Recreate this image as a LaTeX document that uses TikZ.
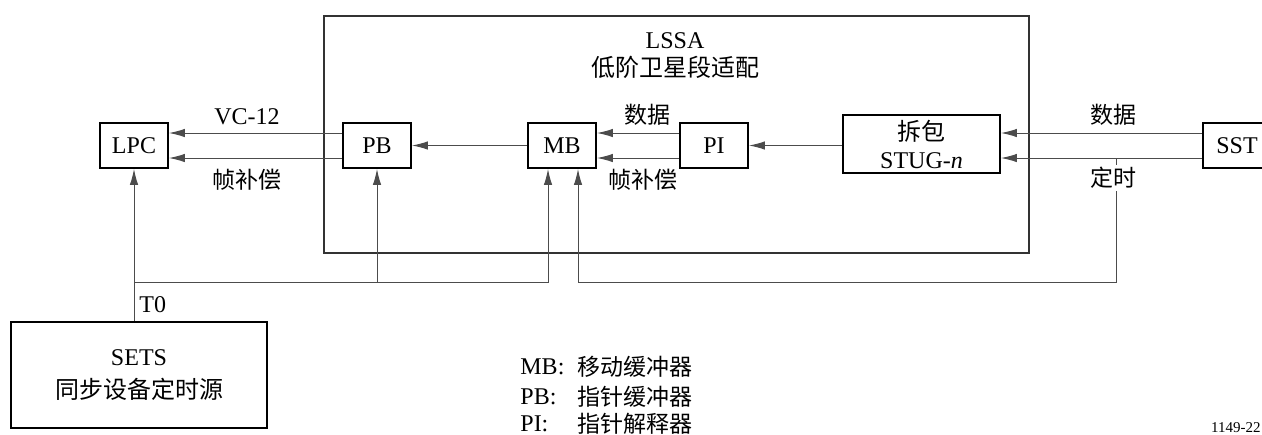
\documentclass[tikz,border=0pt]{standalone}
\usepackage{fontspec}
\setmainfont{Liberation Serif}
\newfontfamily\cjk{Noto Sans CJK SC}
\usetikzlibrary{arrows.meta,calc}
\begin{document}
\begin{tikzpicture}[x=0.5pt,y=-0.5pt,
  every node/.style={font=\fontsize{12}{14}\selectfont, inner sep=0pt},
  blk/.style={draw=black, line width=0.9pt, minimum width=34pt, minimum height=22.5pt, align=center},
  conn/.style={draw=black!70, line width=0.5pt},
  arr/.style={conn, -{Latex[length=8pt,width=4.2pt]}},
  lbl/.style={font=\cjk\fontsize{11.5}{14}\selectfont},
  lblw/.style={lbl, fill=white, inner sep=1pt}]
\useasboundingbox (0,0) rectangle (1262,434);
% big LSSA box
\node[draw=black!80, line width=0.6pt, minimum width=352.5pt, minimum height=118.5pt] (lssa) at (676.5,134.5) {};
\node[align=center, font=\fontsize{12}{14}\selectfont] (lssatxt) at (675,56) {LSSA\\[0pt]{\cjk 低阶卫星段适配}};
% blocks
\node[blk] (LPC) at (134,145.5) {LPC};
\node[blk] (PB) at (377,145.5) {PB};
\node[blk] (MB) at (562,145.5) {MB};
\node[blk] (PI) at (714,145.5) {PI};
\node[blk, minimum width=78.5pt, minimum height=29pt] (unpack) at (921.5,144) {{\cjk 拆包}\\STUG-\textit{n}};
\node[blk] (SST) at (1237,145.5) {SST};
\node[blk, minimum width=128pt, minimum height=53pt, font=\fontsize{12}{16.5}\selectfont] (SETS) at (139,375) {SETS\\{\cjk 同步设备定时源}};
% SST -> unpack
\draw[arr] ([yshift=6.25pt]SST.west) -- ([yshift=6.25pt]SST.west -| unpack.east);
\draw[arr] ([yshift=-6.25pt]SST.west) -- ([yshift=-6.25pt]SST.west -| unpack.east);
% unpack -> PI
\draw[arr] (unpack.west |- PI.east) -- (PI.east);
% PI -> MB
\draw[arr] ([yshift=6.25pt]PI.west) -- ([yshift=6.25pt]MB.east);
\draw[arr] ([yshift=-6.25pt]PI.west) -- ([yshift=-6.25pt]MB.east);
% MB -> PB
\draw[arr] (MB.west) -- (PB.east);
% PB -> LPC
\draw[arr] ([yshift=6.25pt]PB.west) -- ([yshift=6.25pt]LPC.east);
\draw[arr] ([yshift=-6.25pt]PB.west) -- ([yshift=-6.25pt]LPC.east);
% timing from SST
\coordinate (tj) at (1116,158);
\coordinate (tc) at (1116,282);
\draw[arr] (tj) -- (tc) -| ([xshift=8pt]MB.south);
% T0 network
\coordinate (t0) at (134,282);
\draw[arr] (SETS.north -| LPC.south) -- (LPC.south);
\draw[arr] (t0) -| ([xshift=-7pt]MB.south);
\draw[arr] (PB |- t0) -- (PB.south);
% labels
\node (lvc) at (247,117) {VC-12};
\node[lbl] (lfc1) at (247,180) {帧补偿};
\node[lbl] (lda1) at (647,115) {数据};
\node[lbl] (lfc2) at (643,180) {帧补偿};
\node[lbl] (lda2) at (1113,115) {数据};
\node[lblw] (ltm) at (1113,178) {定时};
\node[anchor=west] (lt0) at (139,305) {T0};
% legend
\node[anchor=west] (k1) at (520,367) {MB:};
\node[anchor=west] (k2) at (520,397) {PB:};
\node[anchor=west] (k3) at (520,424) {PI:};
\node[lbl, anchor=west] (v1) at (577,367) {移动缓冲器};
\node[lbl, anchor=west] (v2) at (577,397) {指针缓冲器};
\node[lbl, anchor=west] (v3) at (577,424) {指针解释器};
\node[anchor=south east, font=\fontsize{7.5}{9}\selectfont] (fig) at (1261,433) {1149-22};
\end{tikzpicture}
\end{document}
